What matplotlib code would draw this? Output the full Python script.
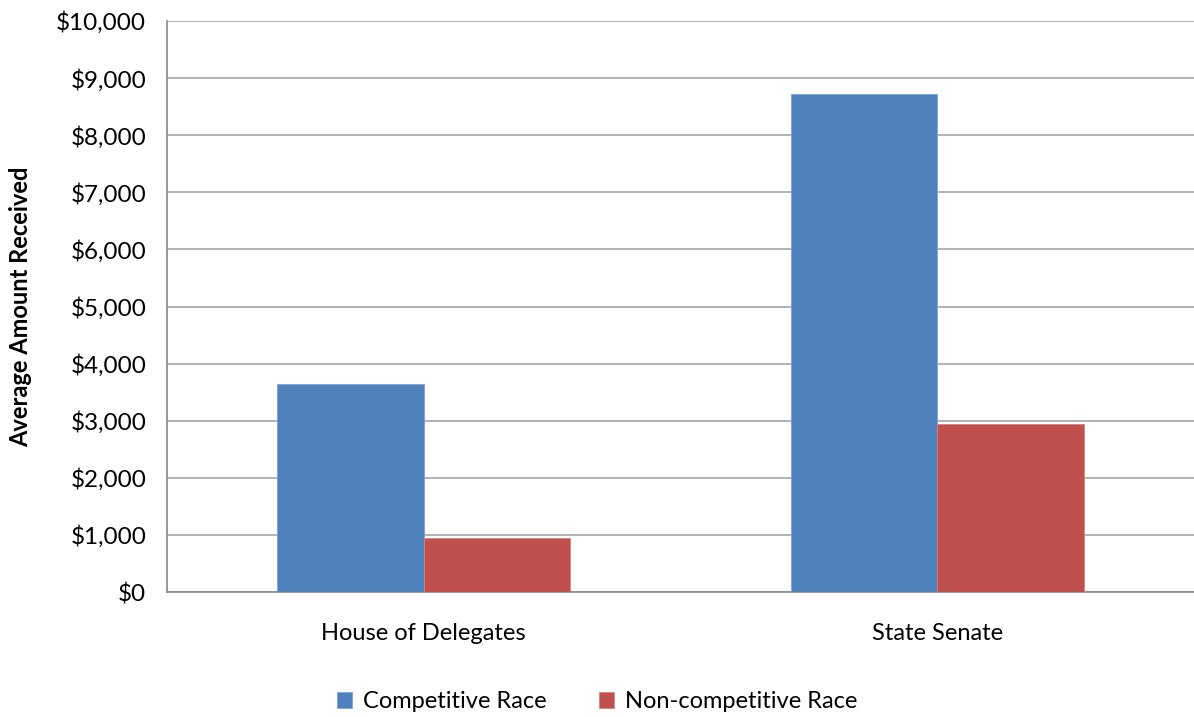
import matplotlib.pyplot as plt
import numpy as np
from matplotlib.ticker import FuncFormatter

categories = ["House of Delegates", "State Senate"]
competitive = [3640, 8730]
non_competitive = [950, 2950]
series_names = ["Competitive Race", "Non-competitive Race"]

plt.rcParams['font.family'] = ['Lato', 'DejaVu Sans']

fig = plt.figure(figsize=(11.94, 7.17), dpi=100)
ax = fig.add_axes([167/1194, 1 - 592/717, (1194 - 167)/1194, (592 - 21)/717])

x = np.arange(len(categories))
w = 1 / 3.5
ax.bar(x - w/2, competitive, width=w, color="#4F81BD", edgecolor="#7DA3D3", linewidth=0.6, label=series_names[0], zorder=3)
ax.bar(x + w/2, non_competitive, width=w, color="#C0504D", edgecolor="#D98280", linewidth=0.6, label=series_names[1], zorder=3)

ax.set_xlim(-0.5, 1.5)
ax.set_ylim(0, 10000)
ax.set_yticks(np.arange(0, 10001, 1000))
ax.yaxis.set_major_formatter(FuncFormatter(lambda v, p: "${:,.0f}".format(v)))
ax.set_xticks(x)
ax.set_xticklabels(categories, fontsize=17)
ax.tick_params(axis='y', labelsize=17.5, length=0, pad=15)
ax.tick_params(axis='x', length=0, pad=22)
ax.grid(axis='y', color="#A6A6A6", linewidth=1.2, zorder=0)

for s in ['top', 'right']:
    ax.spines[s].set_visible(False)
for s in ['left', 'bottom']:
    ax.spines[s].set_color("#888888")
    ax.spines[s].set_linewidth(1.2)

ax.set_ylabel("Average Amount Received", fontsize=17, fontweight='bold')
ax.yaxis.set_label_coords((32 - 167)/1027, 0.5)

fig.legend(loc='center', bbox_to_anchor=(0.5, 1 - 702/717), ncol=2, frameon=False,
           fontsize=17, handlelength=0.65, handleheight=0.65, columnspacing=2.2, handletextpad=0.45)

fig.savefig("out.png", dpi=100)
